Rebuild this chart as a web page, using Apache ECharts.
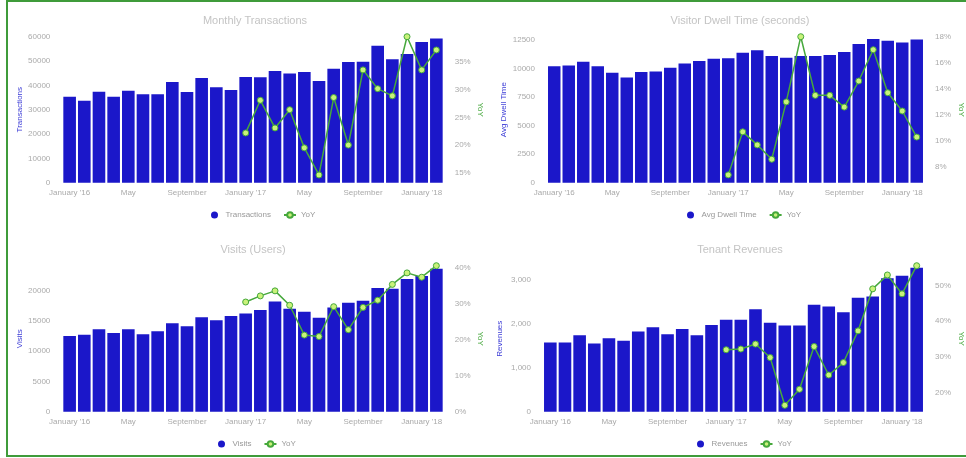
<!DOCTYPE html>
<html>
<head>
<meta charset="utf-8">
<script src="https://cdn.jsdelivr.net/npm/echarts@6/dist/echarts.min.js"></script>
<style>
  html, body { margin: 0; padding: 0; background: #fff; }
  #main { width: 966px; height: 458px; }
</style>
</head>
<body>
<div id="main"></div>
<script>
// month labels, Jan '16 .. Feb '18
const months = ["January '16", 'February', 'March', 'April', 'May', 'June', 'July', 'August',
  'September', 'October', 'November', 'December', "January '17", 'February', 'March', 'April',
  'May', 'June', 'July', 'August', 'September', 'October', 'November', 'December', "January '18", 'February'];

const noYoY = [null, null, null, null, null, null, null, null, null, null, null, null];

const transactions = [35300, 33700, 37400, 35300, 37800, 36400, 36300, 41400, 37300, 43000, 39200, 38100, 43400,
  43300, 45900, 44900, 45500, 41800, 46800, 49600, 49700, 56300, 50700, 52900, 57800, 59300];
const transactionsYoY = noYoY.concat([22.2, 28.1, 23.1, 26.4, 19.5, 14.6, 28.6, 20.0, 33.6, 30.2, 28.9, 39.6, 33.6, 37.2]);

const dwellTime = [10220, 10280, 10600, 10220, 9640, 9230, 9700, 9760, 10080, 10460, 10660, 10860, 10920,
  11390, 11620, 11100, 10950, 11100, 11100, 11190, 11450, 12150, 12590, 12440, 12300, 12560];
const dwellYoY = noYoY.concat([7.4, 10.7, 9.7, 8.6, 13.0, 18.0, 13.5, 13.5, 12.6, 14.6, 17.0, 13.7, 12.3, 10.3]);

const visits = [12500, 12700, 13600, 13000, 13600, 12800, 13300, 14600, 14100, 15600, 15100, 15800, 16200,
  16800, 18200, 17000, 16500, 15500, 17200, 18000, 18300, 20400, 20300, 21900, 22400, 23600];
const visitsYoY = noYoY.concat([30.5, 32.2, 33.6, 29.6, 21.3, 20.9, 29.2, 22.8, 29.0, 31.0, 35.4, 38.6, 37.4, 40.6]);

const revenues = [1575, 1575, 1740, 1550, 1670, 1610, 1820, 1920, 1760, 1880, 1740, 1970, 2090,
  2090, 2330, 2020, 1960, 1960, 2430, 2390, 2260, 2590, 2620, 3030, 3090, 3270];
const revenuesYoY = noYoY.concat([32.0, 32.2, 33.6, 29.8, 16.4, 20.9, 32.9, 24.9, 28.4, 37.3, 49.1, 53.0, 47.7, 55.6]);

const BLUE = '#1b17c9';
const GREEN = '#46a83c';
const FONT = '"Liberation Sans", Arial, sans-serif';

// only label whole steps, so the odd min/max ends stay blank
function every(step, suffix, comma) {
  return function (v) {
    const r = v / step;
    if (Math.abs(r - Math.round(r)) > 1e-6) return '';
    let s = comma ? Math.round(v).toLocaleString('en-US') : String(Math.round(v));
    return s + (suffix || '');
  };
}

const panels = [
  { title: 'Monthly Transactions', cx: 250, legendX: 206, top: 0, grid: [62.3, 443.7], bars: transactions, yoy: transactionsYoY,
    barName: 'Transactions', yMax: 60000, yStep: 10000, comma: false, rMin: 13.2, rMax: 39.6, rStep: 5 },
  { title: 'Visitor Dwell Time (seconds)', cx: 735, legendX: 682, top: 0, grid: [547, 928], bars: dwellTime, yoy: dwellYoY,
    barName: 'Avg Dwell Time', yMax: 12800, yStep: 2500, comma: false, rMin: 6.8, rMax: 18, rStep: 2 },
  { title: 'Visits (Users)', cx: 248, legendX: 213, top: 229, grid: [62.3, 443.7], bars: visits, yoy: visitsYoY,
    barName: 'Visits', yMax: 24100, yStep: 5000, comma: false, rMin: 0, rMax: 40.6, rStep: 10 },
  { title: 'Tenant Revenues', cx: 735, legendX: 692, top: 229, grid: [543, 928], bars: revenues, yoy: revenuesYoY,
    barName: 'Revenues', yMax: 3318, yStep: 1000, comma: true, rMin: 14.6, rMax: 55.6, rStep: 10 }
];

const option = {
  animation: false,
  backgroundColor: '#fff',
  textStyle: { fontFamily: FONT },
  title: [], legend: [], grid: [], xAxis: [], yAxis: [], series: [],
  graphic: [{
    type: 'rect', silent: true,
    shape: { x: 7, y: 1, width: 970, height: 455 },
    style: { fill: 'none', stroke: '#3f9b3a', lineWidth: 2 }
  }]
};

panels.forEach((p, i) => {
  option.title.push({
    text: p.title, left: p.cx, top: p.top + 10, textAlign: 'center',
    textStyle: { color: '#c4c4c4', fontSize: 11, fontWeight: 'normal', fontFamily: FONT }
  });
  option.legend.push({
    data: [{ name: p.barName, icon: 'circle' }, { name: 'YoY' }],
    left: p.legendX, top: p.top + 206,
    itemWidth: 12, itemHeight: 7, itemGap: 12,
    textStyle: { color: '#999', fontSize: 8, fontFamily: FONT }
  });
  option.grid.push({
    left: p.grid[0], width: p.grid[1] - p.grid[0],
    top: p.top + 36.7, height: 146
  });
  option.xAxis.push({
    type: 'category', gridIndex: i, data: months,
    axisLine: { show: false }, axisTick: { show: false },
    axisLabel: { interval: 3, color: '#aaa', fontSize: 8, margin: 6, fontFamily: FONT }
  });
  option.yAxis.push({
    type: 'value', gridIndex: i, min: 0, max: p.yMax, interval: p.yStep,
    name: p.barName, nameLocation: 'middle', nameRotate: 90, nameGap: 39,
    nameTextStyle: { color: '#3b3bd6', fontSize: 8, fontFamily: FONT },
    splitLine: { show: false }, axisLine: { show: false }, axisTick: { show: false },
    axisLabel: { color: '#aaa', fontSize: 8, margin: 12, formatter: every(p.yStep, '', p.comma), fontFamily: FONT }
  });
  option.yAxis.push({
    type: 'value', gridIndex: i, position: 'right', min: p.rMin, max: p.rMax, splitNumber: 5,
    name: 'YoY', nameLocation: 'middle', nameRotate: -90, nameGap: 33,
    nameTextStyle: { color: GREEN, fontSize: 8, fontFamily: FONT },
    splitLine: { show: false }, axisLine: { show: false }, axisTick: { show: false },
    axisLabel: { color: '#aaa', fontSize: 8, margin: 11, formatter: every(p.rStep, '%'), fontFamily: FONT }
  });
  option.series.push({
    name: p.barName, type: 'bar', xAxisIndex: i, yAxisIndex: 2 * i,
    data: p.bars, barCategoryGap: '14%',
    itemStyle: { color: BLUE }
  });
  option.series.push({
    name: 'YoY', type: 'line', xAxisIndex: i, yAxisIndex: 2 * i + 1,
    data: p.yoy, symbol: 'circle', symbolSize: 6,
    lineStyle: { color: GREEN, width: 1.5 },
    itemStyle: { color: '#c9f27a', borderColor: GREEN, borderWidth: 1 }
  });
});

const chart = echarts.init(document.getElementById('main'));
chart.setOption(option);
</script>
</body>
</html>
